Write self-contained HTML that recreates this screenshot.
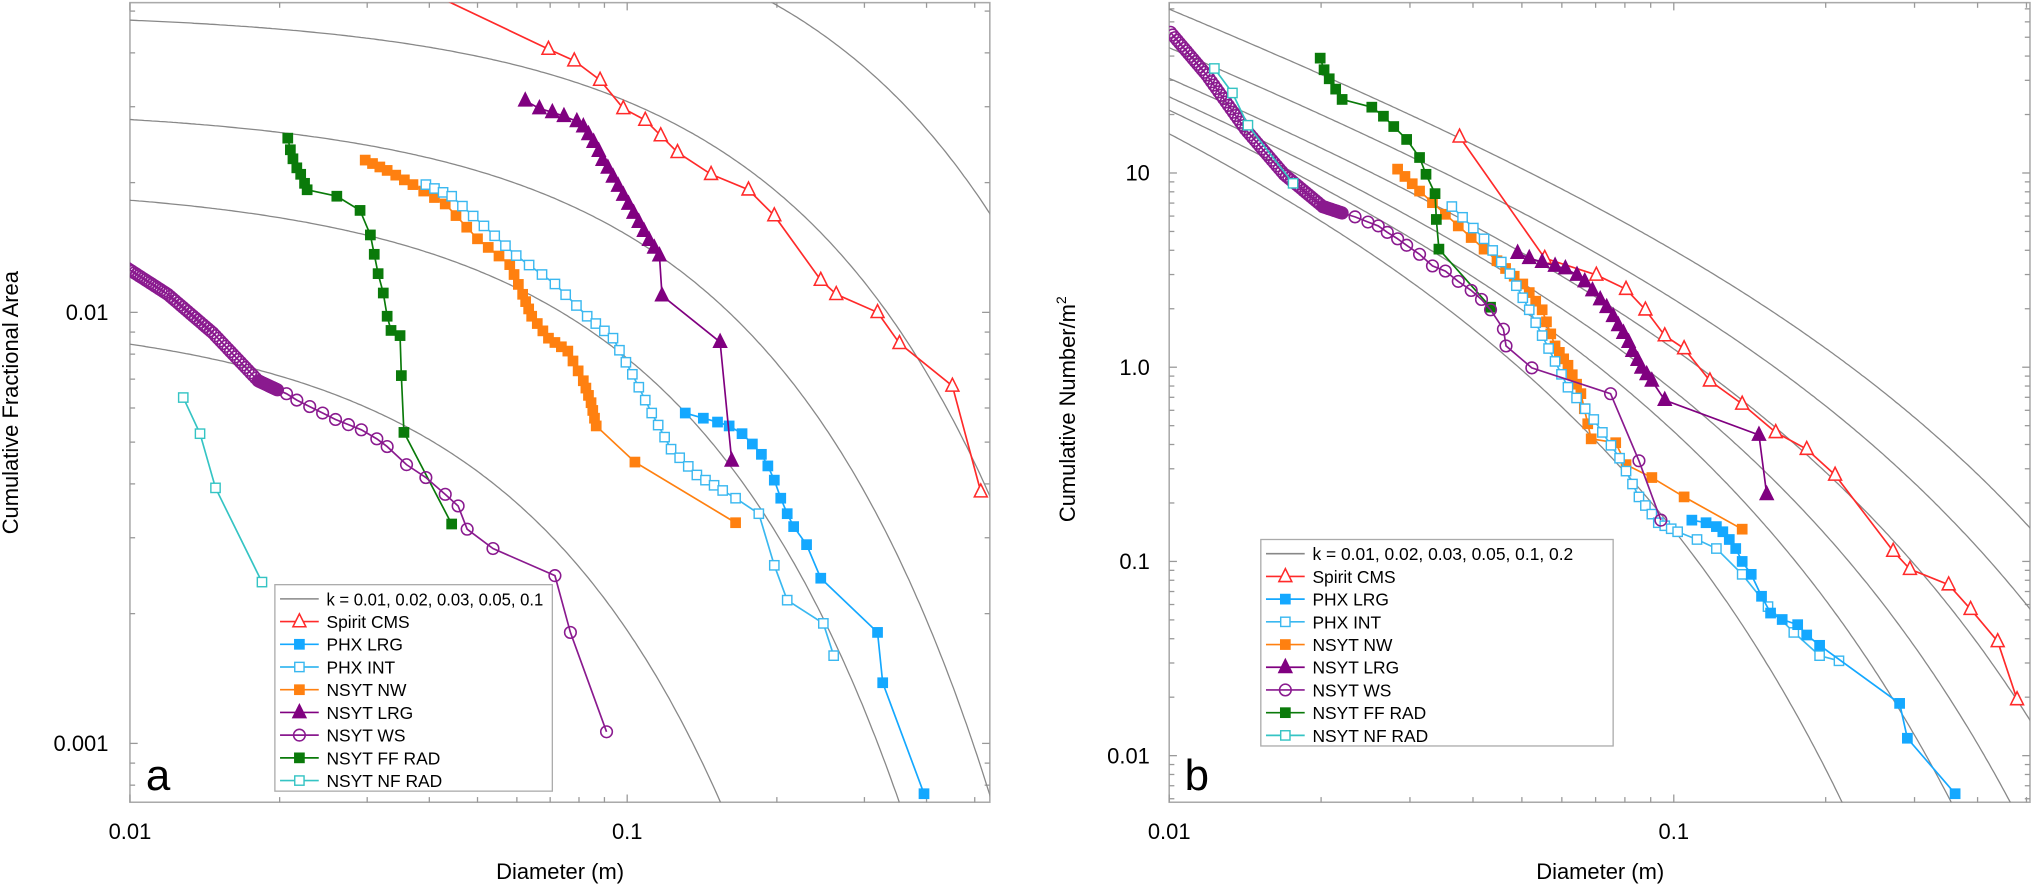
<!DOCTYPE html>
<html><head><meta charset="utf-8">
<style>
html,body{margin:0;padding:0;background:#fff;overflow:hidden;width:2039px;height:888px;}
svg{display:block;position:absolute;left:0;top:0;}
text{font-family:"Liberation Sans",Arial,sans-serif;fill:#000;}
</style></head>
<body>
<svg id="s" xmlns="http://www.w3.org/2000/svg" width="2039" height="888" viewBox="0 0 1580 688">
<defs>
<clipPath id="ca"><rect x="100.7" y="2" width="666.3" height="619.6"/></clipPath>
<clipPath id="cb"><rect x="906" y="2" width="667" height="619.6"/></clipPath>
</defs>
<g id="g"></g>
</svg>
<script>
var NS="http://www.w3.org/2000/svg",G=document.getElementById('g');
function el(t,a,p){var e=document.createElementNS(NS,t);for(var k in a)e.setAttribute(k,a[k]);(p||G).appendChild(e);return e;}
function txt(x,y,s,a){var e=el('text',Object.assign({x:x,y:y},a||{}));e.textContent=s;return e;}
var L10=Math.log10;
var A={l:100.7,r:767,t:2,b:621.6,X:function(d){return 100.7+385.3*(L10(d)+2);},Y:function(f){return 242-334*(L10(f)+2);}};
var B={l:906,r:1573,t:2,b:621.6,X:function(d){return 906+391*(L10(d)+2);},Y:function(n){return 134-150.5*(L10(n)-1);}};
function frame(P){
 el('rect',{x:P.l,y:P.t,width:P.r-P.l,height:P.b-P.t,fill:'none',stroke:'#aaa','stroke-width':1.2});
 for(var e=-2;e<=0;e++)for(var m=1;m<10;m++){var d=m*Math.pow(10,e);var x=P.X(d);if(x<P.l-0.5||x>P.r+0.5)continue;var len=m==1?6:4;
  el('line',{x1:x,y1:P.b,x2:x,y2:P.b-len,stroke:'#999','stroke-width':1});el('line',{x1:x,y1:P.t,x2:x,y2:P.t+len,stroke:'#999','stroke-width':1});}
 for(var e=-4;e<=2;e++)for(var m=1;m<10;m++){var v=m*Math.pow(10,e);var y=P.Y(v);if(y<P.t-0.5||y>P.b+0.5)continue;var len=m==1?6:4;
  el('line',{x1:P.l,y1:y,x2:P.l+len,y2:y,stroke:'#999','stroke-width':1});el('line',{x1:P.r,y1:y,x2:P.r-len,y2:y,stroke:'#999','stroke-width':1});}
}
frame(A);frame(B);
var fs={'font-size':17};
txt(A.X(0.01),650,'0.01',Object.assign({'text-anchor':'middle'},fs));
txt(A.X(0.1),650,'0.1',Object.assign({'text-anchor':'middle'},fs));
txt(B.X(0.01),650,'0.01',Object.assign({'text-anchor':'middle'},fs));
txt(B.X(0.1),650,'0.1',Object.assign({'text-anchor':'middle'},fs));
txt(84,A.Y(0.01)+6,'0.01',Object.assign({'text-anchor':'end'},fs));
txt(84,A.Y(0.001)+6,'0.001',Object.assign({'text-anchor':'end'},fs));
[['10',10],['1.0',1],['0.1',0.1],['0.01',0.01]].forEach(function(p){txt(891,B.Y(p[1])+6,p[0],Object.assign({'text-anchor':'end'},fs));});
txt(434,681,'Diameter (m)',{'text-anchor':'middle','font-size':17});
txt(1240,681,'Diameter (m)',{'text-anchor':'middle','font-size':17});
txt(0,0,'Cumulative Fractional Area',{'text-anchor':'middle','font-size':17,transform:'translate(14,312) rotate(-90)'});
var yl=txt(0,0,'Cumulative Number/m',{'text-anchor':'middle','font-size':17,transform:'translate(833,317) rotate(-90)'});
var sp=el('tspan',{dy:-7,'font-size':11},yl);sp.textContent='2';
txt(113,612,'a',{'font-size':34});
txt(918,612,'b',{'font-size':34});
function curve(P,fn,clip){var pts=[];for(var i=0;i<=400;i++){var ld=-2.05+i*(2.1/400);var d=Math.pow(10,ld);var v=fn(d);if(!(v>0))continue;var y=P.Y(v);if(y>1500)break;pts.push(P.X(d).toFixed(1)+','+y.toFixed(1));}
 el('polyline',{points:pts.join(' '),fill:'none',stroke:'#888','stroke-width':1,'clip-path':'url(#'+clip+')'});}
[0.01,0.02,0.03,0.05,0.1].forEach(function(k){var q=1.79+0.152/k;curve(A,function(d){return k*Math.exp(-q*d);},'ca');});
[0.01,0.02,0.03,0.05,0.1,0.2].forEach(function(k){var q=1.79+0.152/k;var c=1.2*4*k*q/Math.PI;
 curve(B,function(d){var s=0,n=600,a=L10(d),bb=L10(Math.max(d*50,30));var h=(bb-a)/n;for(var i=0;i<=n;i++){var x=Math.pow(10,a+i*h);var f=Math.exp(-q*x)/(x*x)*x*Math.LN10;s+=(i==0||i==n?0.5:1)*f;}return c*s*h;},'cb');});
function marker(type,x,y,col,g){var s=5;
 if(type=='tri'||type=='ftri'){el('polygon',{points:(x)+','+(y-s-1)+' '+(x-s)+','+(y+s-1)+' '+(x+s)+','+(y+s-1),fill:type=='ftri'?col:'#fff',stroke:col,'stroke-width':1.2},g);}
 else if(type=='sq'||type=='fsq'){el('rect',{x:x-3.6,y:y-3.6,width:7.2,height:7.2,fill:type=='fsq'?col:'#fff',stroke:col,'stroke-width':1.1},g);}
 else if(type=='circ'){el('circle',{cx:x,cy:y,r:4.5,fill:'#fff','fill-opacity':0,stroke:col,'stroke-width':1.2},g);}
}
function series(pts,col,type,clip,pre){var g=el('g',{'clip-path':'url(#'+clip+')'});
 var all=(pre?[pre]:[]).concat(pts);
 el('polyline',{points:all.map(function(p){return p.join(',');}).join(' '),fill:'none',stroke:col,'stroke-width':1.3},g);
 pts.forEach(function(p){marker(type,p[0],p[1],col,g);});}
function dense(a,b,n){var r=[];for(var i=0;i<a.length-1;i++){for(var j=0;j<n;j++){var t=j/n;r.push([a[i][0]+(a[i+1][0]-a[i][0])*t,a[i][1]+(a[i+1][1]-a[i][1])*t]);}}r.push(a[a.length-1]);return r;}
var RED='#ff2a2a',PL='#14a8ff',PI='#3ab8f0',NW='#ff8010',LRG='#800080',WS='#8a1a8f',FF='#0a7a0a',NF='#35c4c4';
series([[425,38],[445,47],[465,62],[483,84],[500,93],[512,105],[525,118],[551,135],[580,147],[600,167],[636,217],[648,228],[680,242],[697,266],[738,299],[760,381]],RED,'tri','ca',[345,0]);
series(dense([[283,124],[300,132],[320,143],[345,158],[370,185],[395,205],[405,228],[412,245],[425,262],[440,272],[452,295],[458,312],[462,330]],0,3).concat([[492,358],[570,405]]),NW,'fsq','ca');
series(dense([[330,143],[350,152],[375,175],[400,198],[430,220],[455,245],[475,262],[490,290],[505,320],[520,348],[540,368],[560,380]],0,3).concat([[570,386],[588,398],[600,438],[610,465],[638,483],[646,508]]),PI,'sq','ca');
series([[531,320],[545,324],[556,327],[565,330],[575,336],[583,344],[590,352],[595,361],[600,372],[605,386],[610,398],[615,408],[625,422],[636,448],[680,490],[684,529],[716,615]],PL,'fsq','ca');
series([[407,78],[418,84],[428,87],[437,90],[447,94],[452,98],[456,104],[460,110],[464,117],[467,124],[471,130],[475,137],[479,144],[483,151],[487,158],[491,165],[495,172],[499,179],[503,186],[507,192],[511,198],[513,229],[558,265],[567,357]],LRG,'ftri','ca');
series([[223,107],[225,116],[227,123],[230,130],[233,135],[236,142],[238,147],[261,152],[279,163],[287,182],[290,197],[293,212],[297,227],[300,245],[303,256],[310,260],[311,291],[313,335],[350,406]],FF,'fsq','ca');
series(dense([[99,208],[130,228],[165,258],[200,295],[215,302]],0,18).concat([[222,305],[230,310],[240,315],[250,320],[260,325],[270,329],[280,333],[292,340],[300,346],[315,360],[330,370],[345,383],[355,392],[362,410],[382,425],[430,446],[442,490],[470,567]]),WS,'circ','ca');
series([[142,308],[155,336],[167,378],[203,451]],NF,'sq','ca');
series([[1131,106],[1197,200],[1237,213],[1260,224],[1275,240],[1290,260],[1305,270],[1325,295],[1350,313],[1376,335],[1400,348],[1422,368],[1467,427],[1480,441],[1510,453],[1527,472],[1548,497],[1563,542]],RED,'tri','cb');
series(dense([[1083,131],[1100,148],[1130,175],[1160,202],[1180,220],[1195,240],[1205,268],[1215,283],[1225,305],[1233,340]],0,3).concat([[1252,343],[1260,360],[1280,370],[1305,385],[1350,410]]),NW,'fsq','cb');
series(dense([[1125,160],[1150,185],[1170,212],[1185,240],[1200,270],[1215,300],[1235,325],[1255,355],[1270,385],[1285,405],[1300,412]],0,3).concat([[1315,418],[1330,425],[1350,445],[1370,470],[1390,490],[1410,508],[1425,512]]),PI,'sq','cb');
series([[1311,403],[1322,405],[1330,408],[1335,412],[1340,418],[1345,425],[1350,435],[1357,445],[1365,462],[1372,475],[1381,480],[1393,484],[1400,492],[1410,500],[1472,545],[1478,572],[1515,615]],PL,'fsq','cb');
series([[1176,196],[1185,200],[1195,203],[1205,206],[1213,208],[1222,213],[1228,218],[1234,225],[1240,232],[1245,238],[1250,245],[1254,252],[1258,258],[1262,265],[1265,272],[1269,279],[1272,285],[1276,290],[1280,295],[1290,310],[1363,337],[1369,383]],LRG,'ftri','cb');
series([[1023,45],[1026,54],[1030,61],[1035,69],[1040,77],[1063,83],[1072,90],[1080,98],[1090,108],[1100,122],[1105,135],[1112,150],[1113,170],[1115,193],[1155,238]],FF,'fsq','cb');
series(dense([[907,25],[935,58],[965,100],[995,135],[1025,160],[1040,165]],0,16).concat([[1050,168],[1060,172],[1068,175],[1075,180],[1083,185],[1090,190],[1100,197],[1110,206],[1120,210],[1130,218],[1140,225],[1148,232],[1155,240],[1165,255],[1167,268],[1187,285],[1248,305],[1270,357],[1287,403]]),WS,'circ','cb');
series([[941,53],[955,72],[967,97],[1002,142]],NF,'sq','cb');
function legend(x,y,w,h,kt,kw){el('rect',{x:x,y:y,width:w,height:h,fill:'#fff',stroke:'#aaa','stroke-width':1});
 var rows=[[kt,'#888',null],['Spirit CMS',RED,'tri'],['PHX LRG',PL,'fsq'],['PHX INT',PI,'sq'],['NSYT NW',NW,'fsq'],['NSYT LRG',LRG,'ftri'],['NSYT WS',WS,'circ'],['NSYT FF RAD',FF,'fsq'],['NSYT NF RAD',NF,'sq']];
 rows.forEach(function(r,i){var cy=y+11+i*17.6;el('line',{x1:x+4,y1:cy,x2:x+34,y2:cy,stroke:r[1],'stroke-width':r[2]?1.3:1.2});
  if(r[2])marker(r[2],x+19,cy,r[1]);var a={'font-size':13.5};if(i==0&&kw){a.textLength=kw;a.lengthAdjust='spacingAndGlyphs';}txt(x+40,cy+5,r[0],a);});}
legend(213,453,215,160,'k = 0.01, 0.02, 0.03, 0.05, 0.1',168);
legend(977,418,273,160,'k = 0.01, 0.02, 0.03, 0.05, 0.1, 0.2');
</script>
</body></html>
